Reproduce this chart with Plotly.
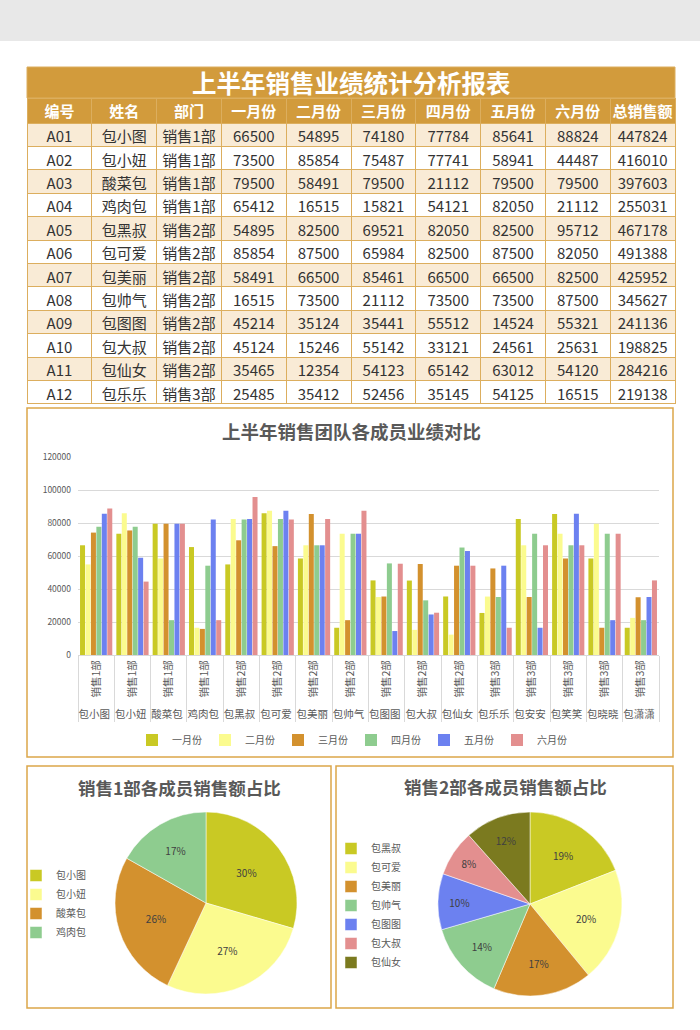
"""Sales report page: summary table, grouped bar chart and two department pies."""

import plotly.graph_objects as go

# ---- data -------------------------------------------------------------
ids = ["A01", "A02", "A03", "A04", "A05", "A06", "A07", "A08", "A09", "A10", "A11", "A12"]
names = ["包小图", "包小妞", "酸菜包", "鸡肉包", "包黑叔", "包可爱", "包美丽", "包帅气",
         "包图图", "包大叔", "包仙女", "包乐乐", "包安安", "包笑笑", "包晓晓", "包潇潇"]
depts = ["销售1部"] * 4 + ["销售2部"] * 7 + ["销售3部"] * 5
months = ["一月份", "二月份", "三月份", "四月份", "五月份", "六月份"]

jan = [66500, 73500, 79500, 65412, 54895, 85854, 58491, 16515, 45214, 45124, 35465, 25485,
       82500, 85461, 58491, 16515]
feb = [54895, 85854, 58491, 16515, 82500, 87500, 66500, 73500, 35124, 15246, 12354, 35412,
       66500, 73500, 79500, 22500]
mar = [74180, 75487, 79500, 15821, 69521, 65984, 85461, 21112, 35441, 55142, 54123, 52456,
       35145, 58491, 16515, 35000]
apr = [77784, 77741, 21112, 54121, 82050, 82500, 66500, 73500, 55512, 33121, 65142, 35145,
       73500, 66500, 73500, 21112]
may = [85641, 58941, 79500, 82050, 82500, 87500, 66500, 73500, 14524, 24561, 63012, 54125,
       16515, 85641, 21112, 35145]
jun = [88824, 44487, 79500, 21112, 95712, 82050, 82500, 87500, 55321, 25631, 54120, 16515,
       66500, 66500, 73500, 45214]
totals = [447824, 416010, 397603, 255031, 467178, 491388, 425952, 345627, 241136, 198825,
          284216, 219138]

table_header = ["编号", "姓名", "部门"] + months + ["总销售额"]

# ---- styling ----------------------------------------------------------
W, H = 700, 1030
GOLD = "#d29b3c"
GOLD_LINE = "#dcae5e"
FONT = "Noto Sans CJK SC"
TEXT = "#595959"
month_colors = ["#c9c924", "#fbfb8f", "#d3912e", "#8ecc8f", "#6c81f0", "#e38f8f"]
pie2_colors = month_colors + ["#7b7a1f"]


def px_x(v):
    return v / W


def px_y(v):
    return 1 - v / H


fig = go.Figure()

# ---- table ------------------------------------------------------------
n_rows = len(ids)
row_fill = ["#f9ebd6" if i % 2 == 0 else "#ffffff" for i in range(n_rows)]
cols = [ids, names[:n_rows], depts[:n_rows]] + [m[:n_rows] for m in (jan, feb, mar, apr, may, jun)] + [totals]

fig.add_trace(go.Table(
    domain=dict(x=[px_x(27), px_x(675)], y=[px_y(406), px_y(98)]),
    columnwidth=[1] * 10,
    header=dict(
        values=table_header,
        fill_color=GOLD,
        line=dict(color=GOLD_LINE, width=1),
        font=dict(family=FONT, size=15, color="white", weight="bold"),
        align="center",
        height=25,
    ),
    cells=dict(
        values=cols,
        fill_color=[row_fill] * 10,
        line=dict(color=GOLD_LINE, width=1),
        font=dict(family=FONT, size=15, color="#333333"),
        align="center",
        height=23.4,
    ),
))

# ---- grouped bar chart -------------------------------------------------
for label, vals, color in zip(months, (jan, feb, mar, apr, may, jun), month_colors):
    fig.add_trace(go.Bar(
        x=[names, depts],
        y=vals,
        name=label,
        marker=dict(color=color, line=dict(width=0)),
        legend="legend",
        xaxis="x",
        yaxis="y",
    ))

# ---- pies --------------------------------------------------------------
fig.add_trace(go.Pie(
    labels=names[:4],
    values=totals[:4],
    domain=dict(x=[px_x(115), px_x(297)], y=[px_y(994), px_y(812)]),
    sort=False,
    direction="clockwise",
    marker=dict(colors=month_colors[:4], line=dict(color="white", width=0.5)),
    texttemplate="%{percent:.0%}",
    textposition="inside",
    insidetextorientation="horizontal",
    textfont=dict(family=FONT, size=10, color="#404040"),
    legend="legend2",
))
fig.add_trace(go.Pie(
    labels=names[4:11],
    values=totals[4:11],
    domain=dict(x=[px_x(438), px_x(622)], y=[px_y(996), px_y(812)]),
    sort=False,
    direction="clockwise",
    marker=dict(colors=pie2_colors, line=dict(color="white", width=0.5)),
    texttemplate="%{percent:.0%}",
    textposition="inside",
    insidetextorientation="horizontal",
    textfont=dict(family=FONT, size=10, color="#404040"),
    legend="legend3",
))

# ---- frames, title band -----------------------------------------------
shapes = [
    dict(type="rect", xref="paper", yref="paper", x0=0, x1=1, y0=px_y(41), y1=1,
         fillcolor="#e8e8e8", line=dict(width=0), layer="below"),
    dict(type="rect", xref="paper", yref="paper", x0=px_x(27), x1=px_x(675),
         y0=px_y(98), y1=px_y(67), fillcolor=GOLD, line=dict(color=GOLD_LINE, width=1)),
    dict(type="rect", xref="paper", yref="paper", x0=px_x(27), x1=px_x(673),
         y0=px_y(757), y1=px_y(408), line=dict(color="#dba64a", width=1.5)),
    dict(type="rect", xref="paper", yref="paper", x0=px_x(27), x1=px_x(331),
         y0=px_y(1008), y1=px_y(766), line=dict(color="#dba64a", width=1.5)),
    dict(type="rect", xref="paper", yref="paper", x0=px_x(336), x1=px_x(673),
         y0=px_y(1008), y1=px_y(766), line=dict(color="#dba64a", width=1.5)),
]

annotations = [
    dict(text="<b>上半年销售业绩统计分析报表</b>", x=px_x(351), y=px_y(82),
         font=dict(family=FONT, size=24.5, color="white")),
    dict(text="<b>上半年销售团队各成员业绩对比</b>", x=px_x(351), y=px_y(431),
         font=dict(family=FONT, size=18.5, color=TEXT)),
    dict(text="<b>销售1部各成员销售额占比</b>", x=px_x(180), y=px_y(787),
         font=dict(family=FONT, size=17.5, color=TEXT)),
    dict(text="<b>销售2部各成员销售额占比</b>", x=px_x(505), y=px_y(786),
         font=dict(family=FONT, size=17.5, color=TEXT)),
]
for a in annotations:
    a.update(xref="paper", yref="paper", showarrow=False, xanchor="center", yanchor="middle")

fig.update_layout(
    width=W,
    height=H,
    margin=dict(l=0, r=0, t=0, b=0),
    paper_bgcolor="white",
    plot_bgcolor="white",
    font=dict(family=FONT, color=TEXT),
    barmode="group",
    bargap=0.1,
    bargroupgap=0.08,
    shapes=shapes,
    annotations=annotations,
    xaxis=dict(
        domain=[px_x(78), px_x(659)],
        type="multicategory",
        tickangle=-90,
        tickfont=dict(family=FONT, size=10.5, color=TEXT),
        showdividers=True,
        dividercolor="#d9d9d9",
        dividerwidth=1,
        showline=True,
        linecolor="#d9d9d9",
        ticks="",
        automargin=False,
    ),
    yaxis=dict(
        domain=[px_y(655), px_y(457)],
        range=[0, 120000],
        dtick=20000,
        tickformat="d",
        tickfont=dict(family=FONT, size=8.5, color=TEXT),
        ticklabelstandoff=6,
        gridcolor="#d9d9d9",
        zeroline=False,
        showline=False,
        automargin=False,
    ),
    legend=dict(
        orientation="h", x=px_x(351), xanchor="center", y=px_y(740), yanchor="middle",
        font=dict(family=FONT, size=10, color=TEXT), bgcolor="rgba(0,0,0,0)",
        itemwidth=30, entrywidth=28,
    ),
    legend2=dict(
        x=px_x(16), xanchor="left", y=px_y(861), yanchor="top",
        font=dict(family=FONT, size=10, color=TEXT), bgcolor="rgba(0,0,0,0)",
        itemwidth=30,
    ),
    legend3=dict(
        x=px_x(331), xanchor="left", y=px_y(834), yanchor="top",
        font=dict(family=FONT, size=10, color=TEXT), bgcolor="rgba(0,0,0,0)",
        itemwidth=30,
    ),
)

fig.write_html("out.html", config={"displayModeBar": False},
               post_script="document.body.style.margin='0';")
